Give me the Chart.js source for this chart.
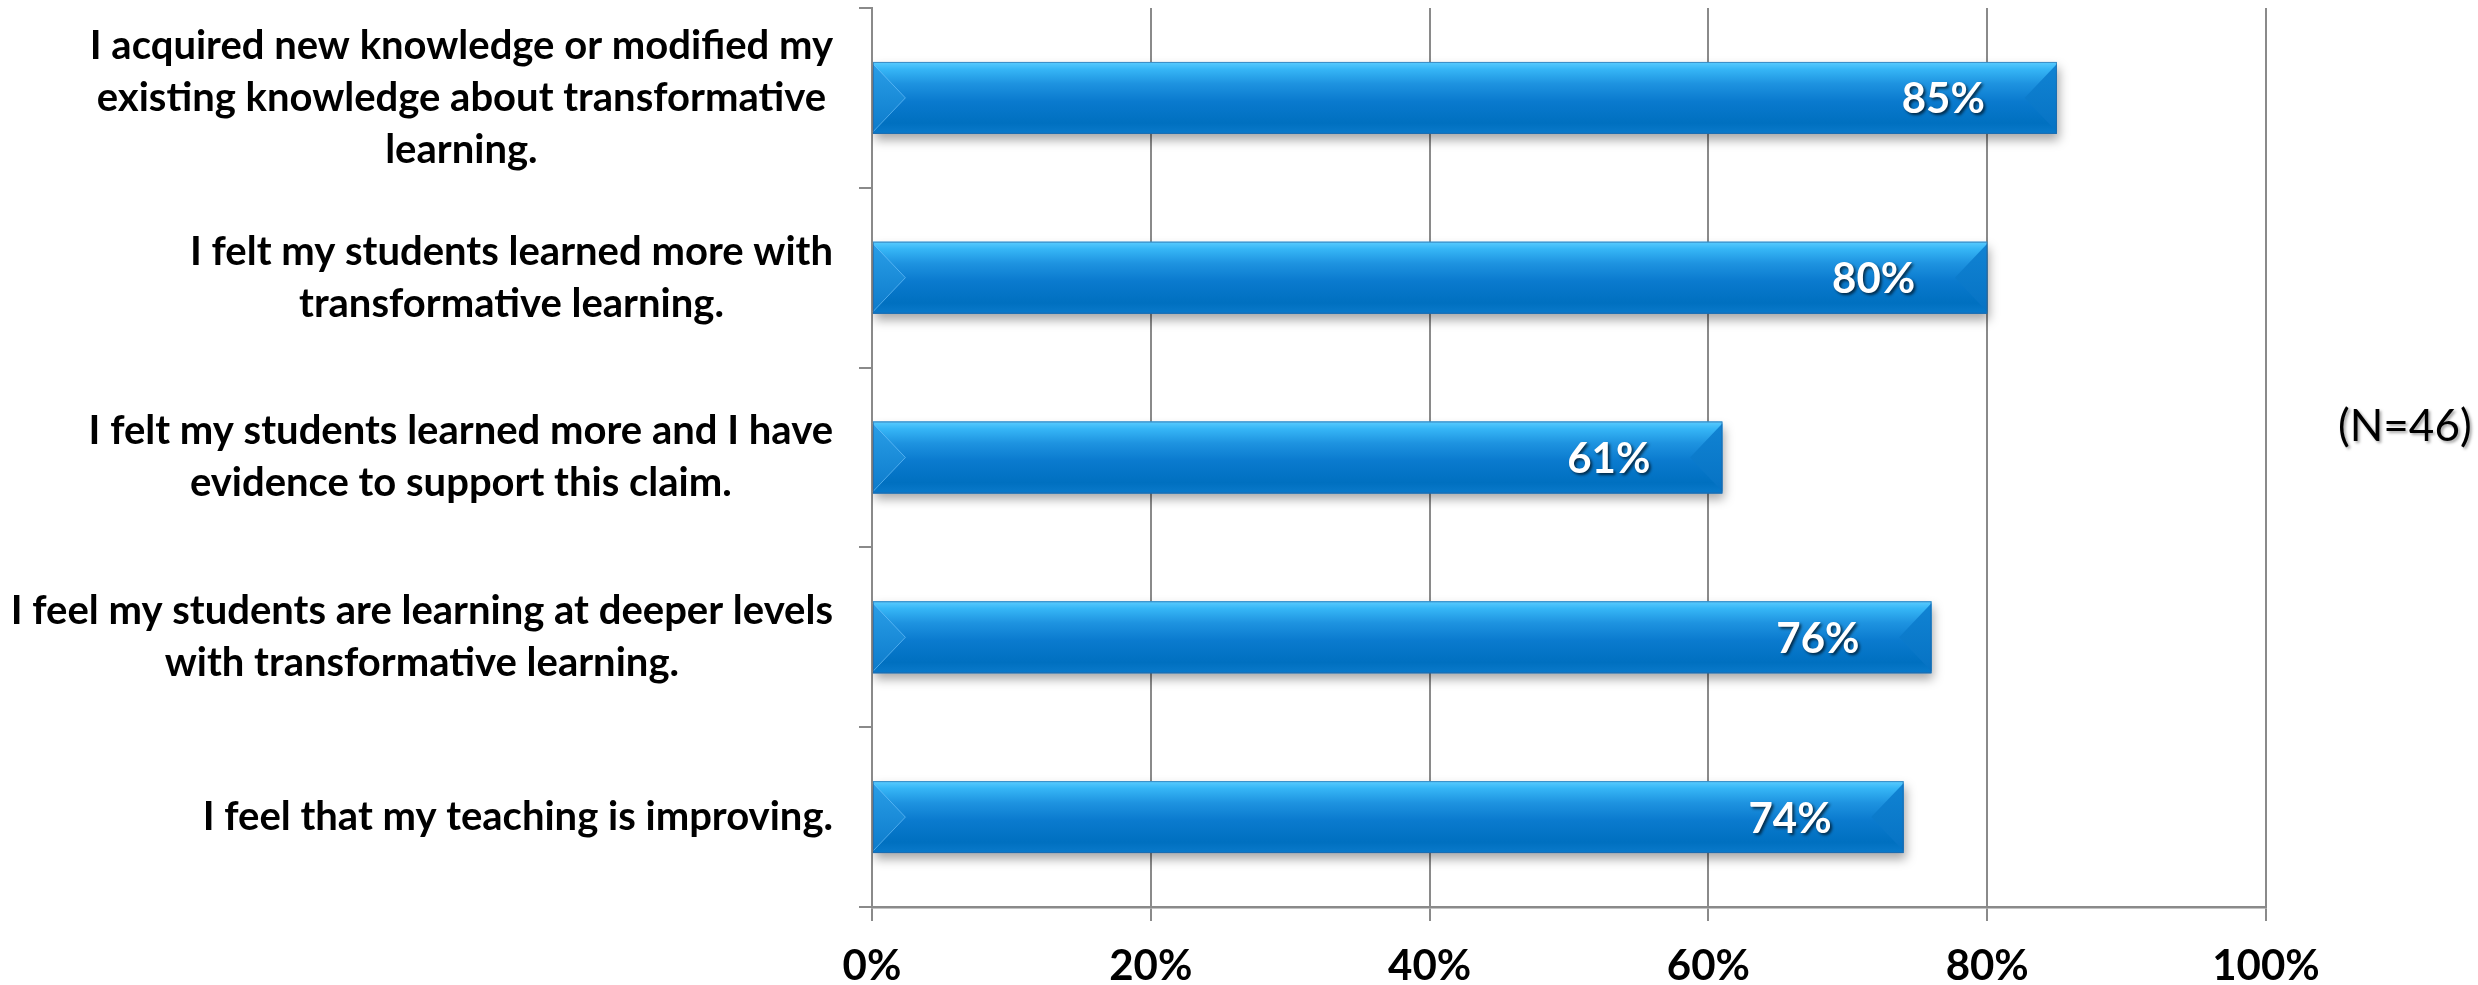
<!DOCTYPE html>
<html>
<head>
<meta charset="utf-8">
<script src="https://cdn.jsdelivr.net/npm/chart.js@4.4.0/dist/chart.umd.min.js"></script>
<style>
  html, body { margin: 0; padding: 0; background: #fff; }
  #wrap { width: 2478px; height: 985px; position: relative; }
</style>
</head>
<body>
<div id="wrap"><canvas id="myChart"></canvas></div>
<script>
const categories = [
  ['I acquired new knowledge or modified my', 'existing knowledge about transformative', 'learning.'],
  ['I felt my students learned more with', 'transformative learning.'],
  ['I felt my students learned more and I have', 'evidence to support this claim.'],
  ['I feel my students are learning at deeper levels', 'with transformative learning.'],
  ['I feel that my teaching is improving.']
];
const values = [0.85, 0.80, 0.61, 0.76, 0.74];
const tickValues = [0, 0.2, 0.4, 0.6, 0.8, 1.0];
const sampleNote = '(N=46)';

(function () {
  const ctx = document.getElementById('myChart');
  Chart.defaults.font.family = 'Lato';

  // category labels: each block centred, widest line ending near the axis
  const catLabels = {
    id: 'catLabels',
    afterDraw(chart) {
      const c = chart.ctx;
      const ys = chart.scales.y;
      const right = chart.chartArea.left - 39;
      c.save();
      c.font = 'bold 40px Lato';
      c.fillStyle = '#000';
      c.textAlign = 'center';
      c.textBaseline = 'middle';
      categories.forEach((lines, i) => {
        const y = ys.getPixelForTick(i);
        const maxW = Math.max(...lines.map(l => c.measureText(l).width));
        const cx = right - maxW / 2;
        lines.forEach((l, j) => {
          c.fillText(l, cx, y + (j - (lines.length - 1) / 2) * 52);
        });
      });
      c.restore();
    }
  };

  // bevelled blue bars with a soft shadow
  const barStyle = {
    id: 'barStyle',
    beforeDatasetsDraw(chart) {
      const c = chart.ctx;
      c.save();
      c.shadowColor = 'rgba(0,0,0,0.35)';
      c.shadowBlur = 10;
      c.shadowOffsetX = 2;
      c.shadowOffsetY = 6;
    },
    afterDatasetsDraw(chart) {
      const c = chart.ctx;
      c.restore();
      chart.getDatasetMeta(0).data.forEach((bar, i) => {
        const x0 = bar.base, x1 = bar.x, h = bar.height;
        const top = bar.y - h / 2, bot = bar.y + h / 2, mid = bar.y;
        const b = h * 0.45;
        c.save();
        const g = c.createLinearGradient(0, top, 0, bot);
        g.addColorStop(0, '#5ACCFF');
        g.addColorStop(0.1, '#36B6F6');
        g.addColorStop(0.3, '#1E93E0');
        g.addColorStop(0.55, '#0A7ACE');
        g.addColorStop(0.85, '#0070C0');
        g.addColorStop(1, '#0A7ACB');
        c.fillStyle = g;
        c.fillRect(x0, top, x1 - x0, h);

        // left bevel
        const gl = c.createLinearGradient(0, top, 0, bot);
        gl.addColorStop(0, '#2A9FE8');
        gl.addColorStop(1, '#0C7ACA');
        c.fillStyle = gl;
        c.beginPath();
        c.moveTo(x0, top + 2); c.lineTo(x0 + b, mid); c.lineTo(x0, bot - 2);
        c.closePath(); c.fill();
        c.strokeStyle = 'rgba(120,200,255,0.6)';
        c.lineWidth = 1;
        c.beginPath();
        c.moveTo(x0, top + 2); c.lineTo(x0 + b, mid); c.lineTo(x0, bot - 2);
        c.stroke();

        // right bevel
        const gr = c.createLinearGradient(0, top, 0, bot);
        gr.addColorStop(0, '#1184D4');
        gr.addColorStop(1, '#0672C3');
        c.fillStyle = gr;
        c.beginPath();
        c.moveTo(x1, top + 2); c.lineTo(x1 - b, mid); c.lineTo(x1, bot - 2);
        c.closePath(); c.fill();

        c.strokeStyle = 'rgba(40,100,160,0.6)';
        c.lineWidth = 1;
        c.strokeRect(x0 + 0.5, top + 0.5, x1 - x0 - 1, h - 1);

        // value label
        c.font = 'bold 42px Lato';
        c.fillStyle = '#fff';
        c.textAlign = 'right';
        c.textBaseline = 'middle';
        c.shadowColor = 'rgba(0,0,0,0.65)';
        c.shadowBlur = 3;
        c.shadowOffsetX = 2;
        c.shadowOffsetY = 2;
        c.fillText(Math.round(values[i] * 100) + '%', x1 - 72, mid + 2);
        c.restore();
      });
    }
  };

  const note = {
    id: 'note',
    afterDraw(chart) {
      const c = chart.ctx;
      const a = chart.chartArea;
      c.save();
      c.font = '44px Lato';
      c.fillStyle = '#000';
      c.textAlign = 'left';
      c.textBaseline = 'middle';
      c.shadowColor = 'rgba(0,0,0,0.35)';
      c.shadowBlur = 3;
      c.shadowOffsetX = 2;
      c.shadowOffsetY = 2;
      c.fillText(sampleNote, a.right + 72, a.top + 419);
      c.restore();
    }
  };

  const data = {
    labels: categories,
    datasets: [{
      label: '',
      data: values,
      backgroundColor: '#0070C0',
      categoryPercentage: 1,
      barPercentage: 0.4
    }]
  };

  const config = {
    type: 'bar',
    data: data,
    plugins: [barStyle, catLabels, note],
    options: {
      indexAxis: 'y',
      responsive: true,
      maintainAspectRatio: false,
      animation: false,
      layout: { padding: { top: 8, right: 212, left: 0, bottom: 0 } },
      scales: {
        x: {
          min: 0,
          max: 1,
          afterBuildTicks: scale => { scale.ticks = tickValues.map(v => ({ value: v })); },
          afterFit: scale => { scale.height = 78; },
          ticks: {
            callback: v => Math.round(v * 100) + '%',
            font: { size: 42, weight: 'bold' },
            color: '#000',
            padding: 20,
            maxRotation: 0
          },
          grid: { color: '#8a8a8a', lineWidth: 2, tickLength: 14 },
          border: { color: '#8a8a8a', width: 2.5 }
        },
        y: {
          afterFit: scale => { scale.width = 872; },
          ticks: { display: false },
          grid: {
            drawOnChartArea: false,
            drawTicks: true,
            tickLength: 13,
            color: '#8a8a8a',
            lineWidth: 2,
            offset: true
          },
          border: { color: '#8a8a8a', width: 2 }
        }
      },
      plugins: {
        legend: { display: false },
        tooltip: { enabled: false }
      }
    }
  };

  if (ctx) {
    new Chart(ctx, config);
  }
})();
</script>
</body>
</html>
